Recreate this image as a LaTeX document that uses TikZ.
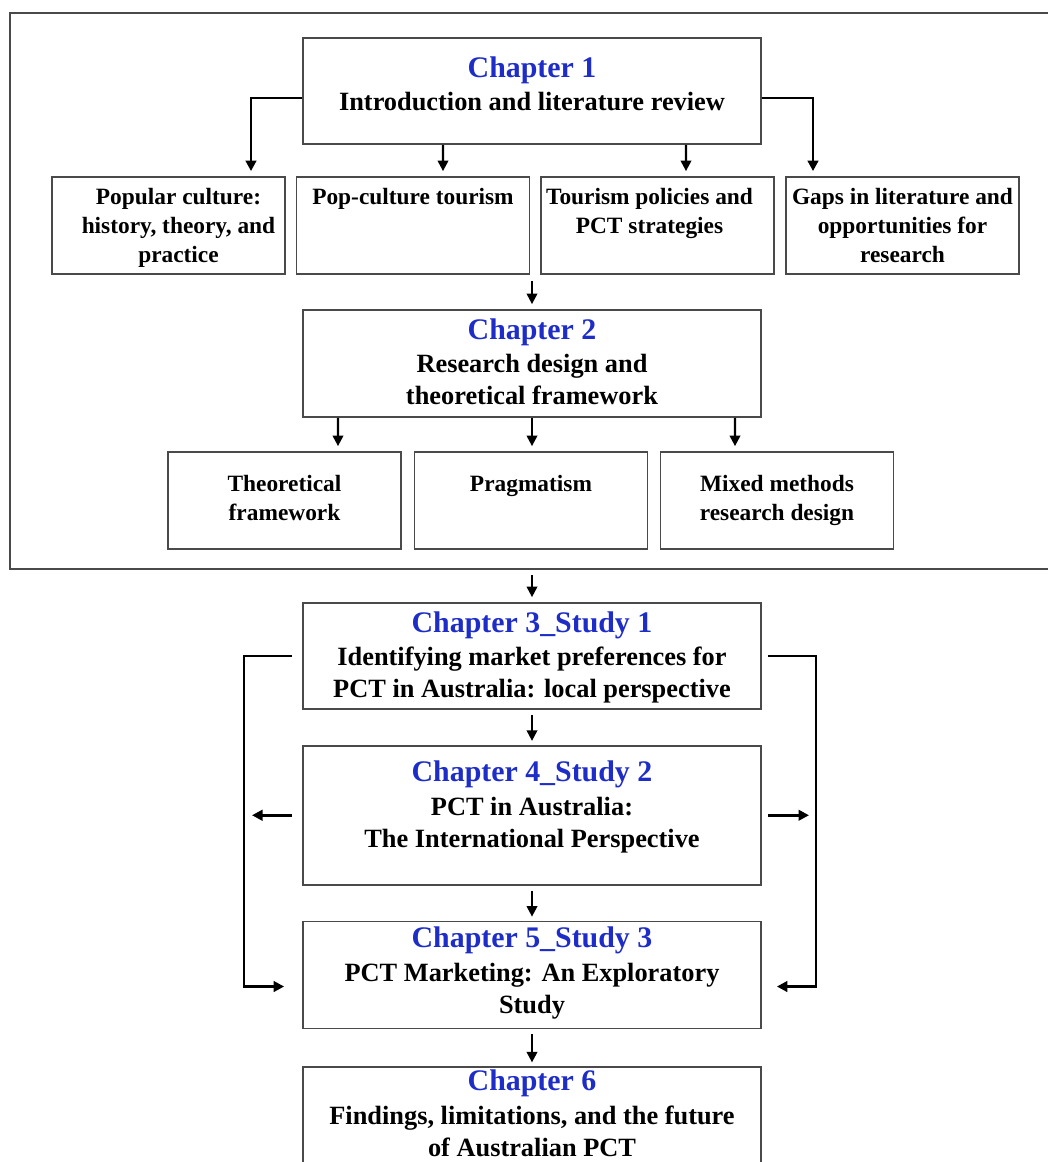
\documentclass[tikz,border=0pt]{standalone}
\usepackage{fontspec}
\setmainfont{Liberation Serif}
\usetikzlibrary{arrows.meta, positioning}
\definecolor{chapblue}{HTML}{1E2DC8}
\definecolor{edgegray}{HTML}{4A4A4A}
\tikzset{
  % Boxes
  chapbox/.style={rectangle, draw=edgegray, line width=1pt, minimum width=9.16cm, inner sep=0pt},
  topicbox/.style={rectangle, draw=edgegray, line width=1pt, minimum width=4.66cm,
    minimum height=1.94cm, inner sep=0pt},
  partframe/.style={rectangle, draw=edgegray, line width=1pt, inner sep=0pt},
  % Texts
  chaptext/.style={align=center, inner sep=0pt, font=\fontsize{15}{18.2}\selectfont\bfseries},
  topictext/.style={align=center, inner sep=0pt, font=\fontsize{13.3}{16.5}\selectfont\bfseries},
  % Arrows
  flow/.style={-{Triangle[length=2.1mm, width=2.1mm]}, line width=1.2pt, shorten >=0.1cm},
  loopflow/.style={flow, line width=1.6pt},
}
\newcommand{\chaptitle}[1]{{\fontsize{17}{18.2}\selectfont\color{chapblue}#1}}

\begin{document}
\begin{tikzpicture}
  \useasboundingbox (0,0) rectangle (20.96,-23.24);

  % Part 1 frame (right edge runs off the page)
  \node[partframe, anchor=north west, minimum width=21.3cm, minimum height=11.12cm] (part1) at (0.18,-0.24) {};

  % Chapter 1
  \node[chapbox, minimum height=2.12cm] (ch1) at (10.64,-1.82) {};
  \node[chaptext, below=0.38cm of ch1.north] (ch1t) {\chaptitle{Chapter 1}\\[1pt]Introduction and literature review};

  % Topics of chapter 1
  \node[topicbox] (popc) at (3.37,-4.51) {};
  \node[topicbox] (pct)  at (8.26,-4.51) {};
  \node[topicbox] (pps)  at (13.15,-4.51) {};
  \node[topicbox] (gaps) at (18.05,-4.51) {};
  \node[topictext, below=0.24cm of popc.north, xshift=0.2cm] (popct) {Popular culture:\\history, theory, and\\practice};
  \node[topictext, below=0.24cm of pct.north] (pctt) {Pop-culture tourism};
  \node[topictext, below=0.24cm of pps.north, xshift=-0.16cm] (ppst) {Tourism policies and\\PCT strategies};
  \node[topictext, below=0.24cm of gaps.north] (gapst) {Gaps in literature and\\opportunities for\\research};

  % Chapter 2
  \node[chapbox, minimum height=2.14cm] (ch2) at (10.64,-7.27) {};
  \node[chaptext, below=0.18cm of ch2.north] (ch2t) {\chaptitle{Chapter 2}\\[1pt]Research design and\\theoretical framework};

  % Topics of chapter 2
  \node[topicbox] (tf)   at (5.69,-10.01) {};
  \node[topicbox] (prag) at (10.62,-10.01) {};
  \node[topicbox] (mm)   at (15.54,-10.01) {};
  \node[topictext, below=0.48cm of tf.north] (tft) {Theoretical\\framework};
  \node[topictext, below=0.48cm of prag.north] (pragt) {Pragmatism};
  \node[topictext, below=0.48cm of mm.north] (mmt) {Mixed methods\\research design};

  % Studies
  \node[chapbox, minimum height=2.12cm] (ch3) at (10.64,-13.12) {};
  \node[chapbox, minimum height=2.78cm, below=0.7cm of ch3] (ch4) {};
  \node[chapbox, minimum height=2.14cm, below=0.7cm of ch4] (ch5) {};
  \node[chapbox, minimum height=2.4cm, below=0.74cm of ch5] (ch6) {};
  \node[chaptext, below=0.18cm of ch3.north] (ch3t) {\chaptitle{Chapter 3\_Study 1}\\[1pt]Identifying market preferences for\\PCT in Australia: local perspective};
  \node[chaptext, below=0.32cm of ch4.north] (ch4t) {\chaptitle{Chapter 4\_Study 2}\\[1pt]PCT in Australia:\\The International Perspective};
  \node[chaptext, below=0.12cm of ch5.north] (ch5t) {\chaptitle{Chapter 5\_Study 3}\\[1pt]PCT Marketing: An Exploratory\\Study};
  \node[chaptext, below=0.06cm of ch6.north] (ch6t) {\chaptitle{Chapter 6}\\[1pt]Findings, limitations, and the future\\of Australian PCT};

  \coordinate (loopL) at (4.88,-13);
  \coordinate (loopR) at (16.32,-13);

  % Arrows
  \draw[loopflow] ([yshift=-0.14cm]ch1.west) -| ([xshift=1.65cm]popc.north);
  \draw[flow] ([xshift=-1.78cm]ch1.south) -- ([xshift=0.6cm]pct.north);
  \draw[flow] ([xshift=3.08cm]ch1.south) -- ([xshift=0.57cm]pps.north);
  \draw[loopflow] ([yshift=-0.14cm]ch1.east) -| ([xshift=-1.79cm]gaps.north);
  \draw[flow, shorten <=0.12cm] (ch2.north |- pct.south) -- (ch2.north);
  \draw[flow] ([xshift=-3.88cm]ch2.south) -- ([xshift=1.07cm]tf.north);
  \draw[flow] (ch2.south) -- (ch2.south |- prag.north);
  \draw[flow] ([xshift=4.06cm]ch2.south) -- ([xshift=-0.84cm]mm.north);
  \draw[flow, shorten <=0.1cm] (ch3.north |- part1.south) -- (ch3.north);
  \draw[flow, shorten <=0.1cm, shorten >=0.08cm] (ch3) -- (ch4);
  \draw[flow, shorten <=0.1cm, shorten >=0.08cm] (ch4) -- (ch5);
  \draw[flow, shorten <=0.1cm, shorten >=0.08cm] (ch5) -- (ch6);
  \draw[loopflow, shorten <=0.2cm, shorten >=0.36cm] (ch3.west) -- (ch3.west -| loopL) |- ([yshift=-0.23cm]ch5.west);
  \draw[loopflow, shorten <=0.12cm, shorten >=0.3cm] (ch3.east) -- (ch3.east -| loopR) |- ([yshift=-0.23cm]ch5.east);
  \draw[loopflow, shorten <=0.2cm, shorten >=0.16cm] (ch4.west) -- (ch4.west -| loopL);
  \draw[loopflow, shorten <=0.12cm, shorten >=0.14cm] (ch4.east) -- (ch4.east -| loopR);
\end{tikzpicture}
\end{document}
